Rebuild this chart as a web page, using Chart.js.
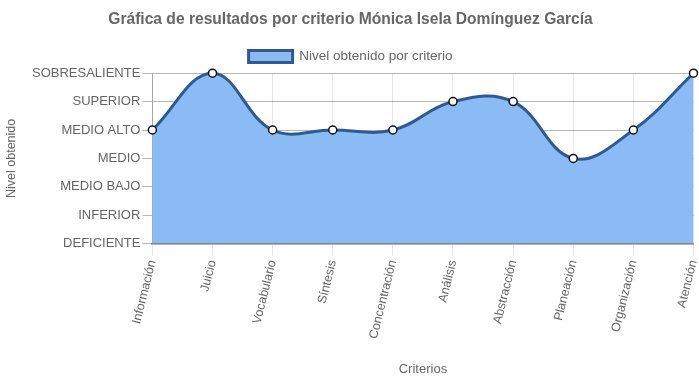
<!DOCTYPE html>
<html>
<head>
<meta charset="utf-8">
<script src="https://cdn.jsdelivr.net/npm/chart.js@4/dist/chart.umd.min.js"></script>
<style>
html,body{margin:0;padding:0;background:#fff;}
#wrap{width:699px;height:382px;}
</style>
</head>
<body>
<div id="wrap"><canvas id="c" width="699" height="382"></canvas></div>
<script>
const categories = ["Información","Juicio","Vocabulario","Síntesis","Concentración","Análisis","Abstracción","Planeación","Organización","Atención"];
const levelLabels = ["DEFICIENTE","INFERIOR","MEDIO BAJO","MEDIO","MEDIO ALTO","SUPERIOR","SOBRESALIENTE"];
const values = [4,6,4,4,4,5,5,3,4,6];

Chart.defaults.font.family = "'Liberation Sans', Arial, sans-serif";
Chart.defaults.color = '#666';

new Chart(document.getElementById('c'), {
  type: 'line',
  data: {
    labels: categories,
    datasets: [{
      label: 'Nivel obtenido por criterio',
      data: values,
      fill: 'origin',
      backgroundColor: 'rgb(138,187,245)',
      borderColor: 'rgb(47,90,143)',
      borderWidth: 3,
      tension: 0.4,
      pointRadius: 4,
      pointBorderWidth: 1.5,
      pointBackgroundColor: '#fff',
      pointBorderColor: '#111',
      clip: 6
    }]
  },
  options: {
    responsive: false,
    animation: false,
    layout: {padding: {left: 0, right: -2, top: 0, bottom: 3}},
    plugins: {
      title: {
        display: true,
        text: 'Gráfica de resultados por criterio Mónica Isela Domínguez García',
        font: {size: 15.6, weight: 'bold'},
        color: '#666',
        padding: {top: 10, bottom: 10}
      },
      legend: {
        labels: {boxWidth: 44, boxHeight: 12, font: {size: 13.5}, color: '#666', padding: 11}
      },
      tooltip: {enabled: false}
    },
    scales: {
      x: {
        offset: false,
        title: {display: true, text: 'Criterios', font: {size: 13}, color: '#666', padding: {top: 18, bottom: 2}},
        ticks: {minRotation: 76, maxRotation: 76, font: {size: 12.5}, color: '#666', padding: 3},
        grid: {color: 'rgba(0,0,0,0.1)', tickLength: 12},
        border: {color: 'rgba(0,0,0,0.3)', width: 2},
        afterFit: s => { s.paddingRight = 0; }
      },
      y: {
        min: 0, max: 6,
        title: {display: true, text: 'Nivel obtenido', font: {size: 12.5}, color: '#666', padding: {top: 4, bottom: 11}},
        ticks: {
          stepSize: 1,
          font: {size: 13},
          color: '#666',
          padding: 2,
          callback: v => levelLabels[v]
        },
        grid: {color: 'rgba(0,0,0,0.28)', tickLength: 10},
        border: {color: 'rgba(0,0,0,0.28)'}
      }
    }
  }
});
</script>
</body>
</html>
